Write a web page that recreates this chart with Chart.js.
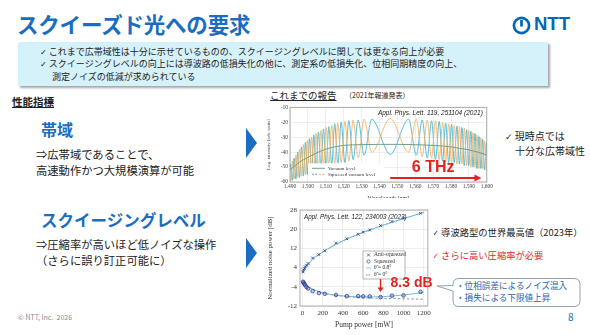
<!DOCTYPE html>
<html>
<head>
<meta charset="utf-8">
<script src="https://cdn.jsdelivr.net/npm/chart.js@4.4.1/dist/chart.umd.min.js"></script>
<style>
  body { margin: 0; width: 590px; height: 335px; background: #fff; position: relative; overflow: hidden;
         font-family: "Noto Sans CJK JP", "Noto Sans", sans-serif; color: #222; }
  .t { position: absolute; white-space: nowrap; line-height: 1; }
  .blue { color: #1a6dc0; }
  .ck { font-family: "DejaVu Sans", sans-serif; font-size: 0.9em; }
  .banner { position: absolute; left: 18px; top: 42px; width: 530px; height: 44px; background: #d5f1fa;
            box-shadow: 2px 2px 2px rgba(0,0,0,0.35); }
  .tri { position: absolute; width: 0; height: 0; border-left: 11px solid #1a6dc0;
         border-top: 15px solid transparent; border-bottom: 15px solid transparent; }
  canvas { position: absolute; }
</style>
</head>
<body>

<div class="t blue" style="left:17px;top:13px;font-size:21.5px;font-weight:bold;letter-spacing:-0.2px;">スクイーズド光への要求</div>
<svg style="position:absolute;left:511px;top:15px" width="21" height="21" viewBox="0 0 21 21">
  <circle cx="10.5" cy="10.5" r="7.6" fill="none" stroke="#0068b7" stroke-width="2.7"/>
  <line x1="10.5" y1="5" x2="10.5" y2="11.5" stroke="#0068b7" stroke-width="2.7"/>
</svg>
<div class="t" style="left:534px;top:15px;font-size:18.5px;font-weight:bold;color:#0068b7;font-family:'Liberation Sans',sans-serif;">NTT</div>

<div class="banner"></div>
<div class="t" style="left:40px;top:47px;font-size:9px;"><span class="ck">✓</span> これまで広帯域性は十分に示せているものの、スクイージングレベルに関しては更なる向上が必要</div>
<div class="t" style="left:40px;top:59px;font-size:9px;"><span class="ck">✓</span> スクイージングレベルの向上には導波路の低損失化の他に、測定系の低損失化、位相同期精度の向上、</div>
<div class="t" style="left:52px;top:72px;font-size:9px;">測定ノイズの低減が求められている</div>

<div class="t" style="left:12px;top:97px;font-size:10.5px;font-weight:bold;text-decoration:underline;">性能指標</div>
<div class="t blue" style="left:41px;top:121px;font-size:16px;font-weight:bold;">帯域</div>
<div class="t" style="left:36px;top:149px;font-size:11.3px;">⇒広帯域であることで、</div>
<div class="t" style="left:36px;top:165px;font-size:11.3px;">高速動作かつ大規模演算が可能</div>
<div class="t blue" style="left:41px;top:212px;font-size:16.5px;font-weight:bold;">スクイージングレベル</div>
<div class="t" style="left:36px;top:239px;font-size:11.3px;">⇒圧縮率が高いほど低ノイズな操作</div>
<div class="t" style="left:36px;top:255px;font-size:11.3px;">（さらに誤り訂正可能に）</div>
<div class="tri" style="left:246px;top:128px;"></div>
<div class="tri" style="left:246px;top:238px;"></div>

<div class="t" style="left:18px;top:314px;font-size:7px;color:#888;">© NTT, Inc.&nbsp; 2026</div>
<div class="t blue" style="left:568px;top:312px;font-size:10px;">8</div>

<div class="t" style="left:270px;top:91px;font-size:9.5px;text-decoration:underline;">これまでの報告</div>
<div class="t" style="left:345px;top:92px;font-size:7px;">（2021年報道発表）</div>
<div class="t" style="left:505px;top:131px;font-size:10px;"><span class="ck">✓</span> 現時点では</div>
<div class="t" style="left:515px;top:146px;font-size:10px;">十分な広帯域性</div>

<div class="t" style="left:432px;top:228px;font-size:9.3px;"><span class="ck">✓</span> 導波路型の世界最高値（2023年）</div>
<div class="t" style="left:432px;top:251px;font-size:9.3px;color:#e02828;"><span class="ck">✓</span> さらに高い圧縮率が必要</div>
<svg style="position:absolute;left:436px;top:277px" width="146" height="31">
  <path d="M23,1.5 H138 Q144,1.5 144,7.5 V23.5 Q144,29.5 138,29.5 H23 Q17,29.5 17,23.5 V14 L1,9 L17,8.5 V7.5 Q17,1.5 23,1.5 Z"
        fill="#fff" stroke="#8fa0b4" stroke-width="1"/>
</svg>
<div class="t" style="left:456px;top:281px;font-size:8.6px;color:#2a62b0;">・位相誤差によるノイズ混入</div>
<div class="t" style="left:456px;top:293px;font-size:8.6px;color:#2a62b0;">・損失による下限値上昇</div>

<canvas id="spectrum" width="228" height="100" style="left:266px;top:102px;width:228px;height:100px;"></canvas>
<canvas id="squeeze" width="168" height="136" style="left:266px;top:198px;width:168px;height:136px;"></canvas>

<script>
// Spectrum: lobe vertices (nulls and peaks) of the squeezed vacuum level, two quadrature colours
const topWl = [1489.4, 1490.3, 1491.3, 1492.3, 1493.3, 1494.3, 1495.3, 1496.4, 1497.5, 1498.6,
  1499.7, 1500.9, 1502.1, 1503.3, 1504.6, 1505.9, 1507.3, 1508.7, 1510.2, 1511.7,
  1513.3, 1515.0, 1516.7, 1518.6, 1520.7, 1522.9, 1525.3, 1528.1, 1531.4, 1535.7,
  1546.0, 1556.3, 1560.6, 1563.9, 1566.7, 1569.1, 1571.3, 1573.4, 1575.3, 1577.0,
  1578.7, 1580.3, 1581.8, 1583.3, 1584.7, 1586.1, 1587.4, 1588.7, 1589.9, 1591.1,
  1592.3, 1593.4, 1594.5, 1595.6, 1596.7, 1597.7, 1598.7, 1599.8, 1600.7];
const blueDb = [-60, -48, -59, -44, -58, -40, -57, -36.5, -56, -33.5,
  -55, -31, -54, -28.5, -52, -26.5, -51, -24.5, -50, -23,
  -49, -21, -48, -20, -47, -19, -45, -18.5, -42, -18,
  -41.5, -18, -42, -18.5, -44, -19, -45, -19.5, -46, -20.5,
  -47, -21.5, -47, -22.5, -48, -23.5, -49, -25, -49, -26,
  -50, -27.5, -51, -29.5, -51, -31.5, -52, -33.5, -53];
const orangeDb = [-50, -59, -46, -58, -42, -57, -38, -56, -35, -55,
  -32, -54, -30, -53, -27.5, -52, -25.5, -50, -23.5, -49,
  -22, -48, -20.5, -47, -19.5, -46, -18.5, -44, -18, -40,
  -17.5, -40, -18, -43, -18.5, -44, -19, -45, -20, -46,
  -21, -47, -22, -48, -23, -48, -24, -49, -25.5, -50,
  -27, -50, -28.5, -51, -30.5, -51, -32.5, -52, -34.5];
const vacWl = [1490, 1495, 1500, 1505, 1510, 1515, 1520, 1530, 1540, 1550, 1560, 1570, 1580, 1585, 1590, 1595, 1600];
const vacDb = [-52, -47, -43.5, -40.5, -38, -36.5, -35.5, -35, -34.8, -34.8, -35, -35.5, -36.5, -37.5, -38.5, -40, -42];

// Squeezing vs pump power
const pumpMw = [5, 10, 18, 26, 40, 55, 100, 162, 220, 331, 438, 551, 600, 665, 772, 885, 999, 1168];
const antiDb = [2.2, 3.0, 3.6, 4.4, 5.0, 5.7, 8.0, 9.4, 11.0, 14.2, 16.0, 17.9, 18.8, 19.7, 21.5, 23.2, 24.6, 26.6];
const sqzDb = [-1.9, -2.3, -2.8, -3.3, -4.1, -4.7, -5.8, -6.6, -6.9, -7.4, -7.9, -7.9, -8.0, -8.0, -8.3, -7.7, -7.6, -6.1];
const fitMw = [0, 20, 50, 100, 200, 300, 400, 500, 600, 700, 800, 900, 1000, 1100, 1200];
const antiFit = [2.0, 3.3, 5.0, 7.4, 10.5, 13.0, 15.2, 17.0, 18.7, 20.2, 21.7, 23.1, 24.4, 25.7, 27.0];
const sqzFit08 = [-1.8, -2.7, -3.8, -5.0, -6.5, -7.3, -7.8, -8.1, -8.2, -8.2, -8.1, -7.8, -7.4, -6.9, -6.3];
const sqzFit0 = [-1.8, -2.7, -3.8, -5.0, -6.6, -7.4, -7.9, -8.3, -8.5, -8.7, -8.8, -8.9, -9.0, -9.1, -9.2];
const bestSqzDb = 8.3;

const xy = (xs, ys) => xs.map((x, i) => ({ x, y: ys[i] }));
const serif = "'Liberation Serif', 'DejaVu Serif', serif";

const whiteBg = {
  id: 'whiteBg',
  beforeDraw(chart) {
    const ctx = chart.ctx;
    ctx.save();
    ctx.fillStyle = '#fff';
    ctx.fillRect(0, 0, chart.width, chart.height);
    ctx.restore();
  }
};
const plotBox = {
  id: 'plotBox',
  afterDraw(chart) {
    const { ctx, chartArea: a } = chart;
    ctx.save();
    ctx.strokeStyle = '#9a9a9a';
    ctx.lineWidth = 0.8;
    ctx.strokeRect(a.left, a.top, a.right - a.left, a.bottom - a.top);
    ctx.restore();
  }
};

// annotations of the spectrum
const spectrumNotes = {
  id: 'spectrumNotes',
  afterDatasetsDraw(chart) {
    const { ctx, chartArea: a, scales: { x, y } } = chart;
    ctx.save();
    // legend
    ctx.fillStyle = '#fff';
    ctx.fillRect(a.left + 18, a.top + 56, 76, 16);
    ctx.lineWidth = 1;
    ctx.strokeStyle = '#6f9e94';
    ctx.beginPath(); ctx.moveTo(a.left + 22, a.top + 61); ctx.lineTo(a.left + 35, a.top + 61); ctx.stroke();
    ctx.setLineDash([2, 1.2]);
    ctx.strokeStyle = '#45b5d6';
    ctx.beginPath(); ctx.moveTo(a.left + 22, a.top + 67); ctx.lineTo(a.left + 28, a.top + 67); ctx.stroke();
    ctx.strokeStyle = '#f2b466';
    ctx.beginPath(); ctx.moveTo(a.left + 29, a.top + 67); ctx.lineTo(a.left + 35, a.top + 67); ctx.stroke();
    ctx.setLineDash([]);
    ctx.fillStyle = '#333';
    ctx.font = '5px ' + serif;
    ctx.textBaseline = 'middle';
    ctx.fillText('Vacuum level', a.left + 38, a.top + 61);
    ctx.fillText('Squeezed vacuum level', a.left + 38, a.top + 67);
    // reference
    ctx.font = 'italic 6.5px "Liberation Sans", sans-serif';
    ctx.textAlign = 'right';
    ctx.fillStyle = '#222';
    ctx.fillText('Appl. Phys. Lett. 119, 251104 (2021)', a.right - 4, a.top + 6);
    // bandwidth arrow
    const ay = y.getPixelForValue(-57.3);
    const x0 = x.getPixelForValue(1546), x1 = x.getPixelForValue(1597);
    ctx.strokeStyle = '#e0241f';
    ctx.fillStyle = '#e0241f';
    ctx.lineWidth = 2;
    ctx.beginPath(); ctx.moveTo(x0, ay); ctx.lineTo(x1 - 5, ay); ctx.stroke();
    ctx.beginPath(); ctx.moveTo(x1, ay); ctx.lineTo(x1 - 7, ay - 3.5); ctx.lineTo(x1 - 7, ay + 3.5); ctx.closePath(); ctx.fill();
    ctx.font = 'bold 16px "Liberation Sans", sans-serif';
    ctx.textAlign = 'center';
    ctx.fillText('6 THz', x.getPixelForValue(1570), y.getPixelForValue(-50.5));
    ctx.restore();
  }
};

new Chart(document.getElementById('spectrum'), {
  type: 'line',
  data: {
    datasets: [
      { label: 'Vacuum level', data: xy(vacWl, vacDb), borderColor: '#6f9e94', borderWidth: 1,
        pointRadius: 0, cubicInterpolationMode: 'monotone' },
      { label: 'Squeezed vacuum level (a)', data: xy(topWl, orangeDb), borderColor: '#f2b466', borderWidth: 0.9,
        pointRadius: 0, cubicInterpolationMode: 'monotone' },
      { label: 'Squeezed vacuum level (b)', data: xy(topWl, blueDb), borderColor: '#45b5d6', borderWidth: 0.9,
        pointRadius: 0, cubicInterpolationMode: 'monotone' }
    ]
  },
  options: {
    responsive: false,
    animation: false,
    events: [],
    layout: { padding: { left: 0, right: 4, top: 5, bottom: 0 } },
    plugins: { legend: { display: false }, tooltip: { enabled: false } },
    scales: {
      x: { type: 'linear', min: 1490, max: 1600,
           ticks: { stepSize: 10, color: '#444', padding: 1, font: { family: serif, size: 5.5 }, maxRotation: 0 },
           grid: { color: '#e2e2e2', lineWidth: 0.6, drawTicks: false },
           border: { display: false },
           title: { display: true, text: 'Wavelength [nm]', color: '#444', padding: 0, font: { family: serif, size: 6 } },
           afterFit(s) { s.height = 20; } },
      y: { min: -60, max: -10,
           ticks: { stepSize: 10, color: '#444', padding: 2, font: { family: serif, size: 5.5 } },
           grid: { color: '#e2e2e2', lineWidth: 0.6, drawTicks: false },
           border: { display: false },
           title: { display: true, text: 'Log. intensity [arb. units]', color: '#444', padding: 0, font: { family: serif, size: 5 } },
           afterFit(s) { s.width = 24; } }
    }
  },
  plugins: [whiteBg, plotBox, spectrumNotes]
});

// annotations of the squeezing plot
const squeezeNotes = {
  id: 'squeezeNotes',
  afterDatasetsDraw(chart) {
    const { ctx, chartArea: a, scales: { x, y } } = chart;
    ctx.save();
    ctx.font = 'italic 6.3px "Liberation Sans", sans-serif';
    ctx.fillStyle = '#222';
    ctx.textBaseline = 'middle';
    ctx.fillText('Appl. Phys. Lett. 122, 234003 (2023)', a.left + 4, a.top + 7);
    // legend
    const lx = a.left + 63, ly = a.top + 41;
    ctx.fillStyle = '#fff';
    ctx.fillRect(lx, ly, 42, 28);
    ctx.strokeStyle = '#888';
    ctx.lineWidth = 0.6;
    ctx.strokeRect(lx, ly, 42, 28);
    ctx.strokeStyle = '#2b3f8f';
    ctx.lineWidth = 0.7;
    ctx.beginPath();
    ctx.moveTo(lx + 4, ly + 2.5); ctx.lineTo(lx + 7, ly + 5.5);
    ctx.moveTo(lx + 7, ly + 2.5); ctx.lineTo(lx + 4, ly + 5.5);
    ctx.stroke();
    ctx.beginPath(); ctx.arc(lx + 5.5, ly + 10.5, 1.6, 0, Math.PI * 2); ctx.stroke();
    ctx.strokeStyle = '#5fb8d8';
    ctx.beginPath(); ctx.moveTo(lx + 3, ly + 17); ctx.lineTo(lx + 8, ly + 17); ctx.stroke();
    ctx.strokeStyle = '#555';
    ctx.setLineDash([1.5, 1]);
    ctx.beginPath(); ctx.moveTo(lx + 3, ly + 24); ctx.lineTo(lx + 8, ly + 24); ctx.stroke();
    ctx.setLineDash([]);
    ctx.fillStyle = '#333';
    ctx.font = '5.5px ' + serif;
    ctx.fillText('Anti-squeezed', lx + 11, ly + 4);
    ctx.fillText('Squeezed', lx + 11, ly + 10.5);
    ctx.fillText('θ̃ = 0.8°', lx + 11, ly + 17);
    ctx.fillText('θ̃ = 0°', lx + 11, ly + 24);
    // best squeezing level
    const px = x.getPixelForValue(772);
    const top = y.getPixelForValue(-0.8), tip = y.getPixelForValue(-6.2);
    ctx.strokeStyle = '#e0241f';
    ctx.fillStyle = '#e0241f';
    ctx.lineWidth = 1.5;
    ctx.beginPath(); ctx.moveTo(px, top); ctx.lineTo(px, tip - 3); ctx.stroke();
    ctx.beginPath(); ctx.moveTo(px, tip); ctx.lineTo(px - 3, tip - 4.5); ctx.lineTo(px + 3, tip - 4.5); ctx.closePath(); ctx.fill();
    ctx.font = 'bold 14px "Liberation Sans", sans-serif';
    ctx.fillText(bestSqzDb.toFixed(1) + ' dB', px + 10, y.getPixelForValue(-2.6));
    ctx.restore();
  }
};

new Chart(document.getElementById('squeeze'), {
  type: 'line',
  data: {
    datasets: [
      { label: 'Anti-squeezed', data: xy(pumpMw, antiDb), showLine: false, pointStyle: 'crossRot',
        pointRadius: 2, borderColor: '#2b3f8f', borderWidth: 0.8 },
      { label: 'Squeezed', data: xy(pumpMw, sqzDb), showLine: false, pointStyle: 'circle',
        pointRadius: 1.8, borderColor: '#2b3f8f', backgroundColor: 'rgba(90,110,190,0.35)', borderWidth: 0.8 },
      { label: 'θ = 0.8° (anti)', data: xy(fitMw, antiFit), borderColor: '#5fb8d8', borderWidth: 0.9,
        pointRadius: 0, cubicInterpolationMode: 'monotone' },
      { label: 'θ = 0.8°', data: xy(fitMw, sqzFit08), borderColor: '#5fb8d8', borderWidth: 0.9,
        pointRadius: 0, cubicInterpolationMode: 'monotone' },
      { label: 'θ = 0° (anti)', data: xy(fitMw, antiFit), borderColor: '#666', borderWidth: 0.6, borderDash: [2, 1.5],
        pointRadius: 0, cubicInterpolationMode: 'monotone' },
      { label: 'θ = 0°', data: xy(fitMw, sqzFit0), borderColor: '#666', borderWidth: 0.7, borderDash: [2.5, 2],
        pointRadius: 0, cubicInterpolationMode: 'monotone' }
    ]
  },
  options: {
    responsive: false,
    animation: false,
    events: [],
    layout: { padding: { left: 0, right: 6, top: 12, bottom: 0 } },
    plugins: { legend: { display: false }, tooltip: { enabled: false } },
    scales: {
      x: { type: 'linear', min: -25, max: 1240,
           ticks: { stepSize: 200, includeBounds: false, color: '#333', padding: 3, font: { family: serif, size: 7 },
                    maxRotation: 0, callback: v => String(v) },
           grid: { color: '#e2e2e2', lineWidth: 0.6, drawTicks: false },
           border: { display: false },
           title: { display: true, text: 'Pump power [mW]', color: '#333', padding: { top: 3 }, font: { family: serif, size: 7.5 } },
           afterFit(s) { s.height = 28; } },
      y: { min: -12, max: 28,
           ticks: { stepSize: 4, color: '#333', padding: 3, font: { family: serif, size: 7 } },
           grid: { color: '#e2e2e2', lineWidth: 0.6, drawTicks: false },
           border: { display: false },
           title: { display: true, text: 'Normalized noise power [dB]', color: '#333', padding: 0, font: { family: serif, size: 7 } },
           afterFit(s) { s.width = 34; } }
    }
  },
  plugins: [whiteBg, plotBox, squeezeNotes]
});
</script>
</body>
</html>
